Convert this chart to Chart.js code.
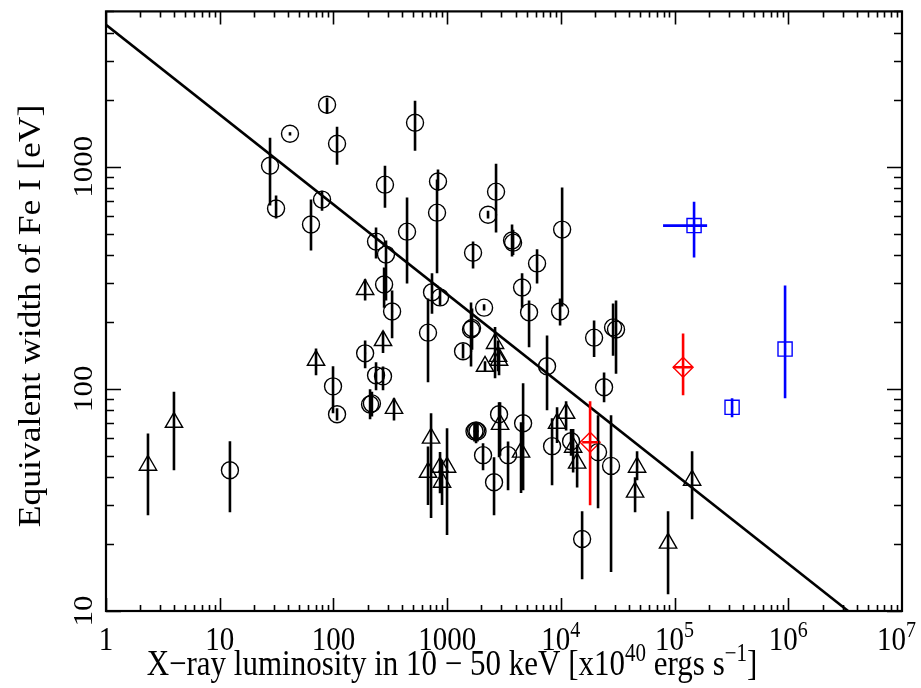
<!DOCTYPE html>
<html>
<head>
<meta charset="utf-8">
<script src="https://cdn.jsdelivr.net/npm/chart.js@4.4.0/dist/chart.umd.min.js"></script>
<style>
  html, body { margin: 0; padding: 0; background: #ffffff; }
  #grafico { display: block; }
</style>
</head>
<body>
<canvas id="grafico" width="921" height="688"></canvas>
<script>
// Fuentes Compton-thick / Seyfert: anchura equivalente de Fe I frente a luminosidad 10-50 keV

// circulos
const circX  = [27.7, 31.3, 41.5, 87.9, 107.6, 63.5, 79.4, 284, 522, 831, 815, 444, 237, 290, 279, 328, 736, 866, 679,
                2692, 2289, 3722, 3800, 1690, 10260, 6177, 4561, 5253, 9843, 19600, 28790, 30560, 23990, 7561, 2113,
                1380, 1622, 1656, 190, 237, 273, 99.2, 107.6, 210, 218, 12.3, 2861, 1740, 1796, 1850, 2069, 3433,
                2585, 4656, 8369, 21240, 27630, 15380, 12300];
const circY  = [1010, 648, 1406, 1900, 1268, 549, 711, 830, 1577, 857, 621, 510, 460, 402, 295, 223, 272, 258, 179,
                772, 608, 465, 455, 410, 521, 367, 286, 221, 223, 170, 189, 185, 101.6, 126.3, 232,
                147.6, 185, 188, 144.5, 115, 113.8, 102.6, 76.8, 85, 86, 43, 76.8, 64.4, 65, 64.4, 50.3, 50.3,
                38, 70, 55.2, 51.9, 45, 21.1, 58.1];
const circLo = [668, 584, 1380, 1730, 1021, 419, 634, 654, 1180, 780, 331, 298, 386, 250, 232, 169, 218, 237, 107,
                505, 584, 394, 400, 348, 235, 298, 232, 154, 193, 139, 141, 117, 87, 80, 225,
                137, 126, 150, 123.7, 98.5, 98.5, 77.6, 72.1, 72.9, 75, 27.8, 49.2, 58, 56.9, 58, 43, 35,
                27, 35, 36.8, 29, 15, 13.9, 50];
const circHi = [1349, 741, 1430, 2042, 1514, 711, 780, 1010, 1982, 970, 875, 726, 532, 465, 352, 277, 331, 286, 255,
                1030, 634, 549, 520, 460, 805, 425, 331, 250, 255, 203, 242, 250, 118.6, 174, 240,
                160, 245, 230, 165, 131.6, 126, 126.3, 81.7, 99.5, 97, 58.1, 87, 70, 70.7, 70, 56.9, 58,
                49.2, 106, 73.7, 76, 76, 28.1, 66];

// triangulos
const triX  = [2.34, 3.96, 190, 273, 70.3, 341, 2638, 2804, 2861, 2153, 2920, 4466, 9262, 11120, 12820, 13900,
               722, 679, 866, 902, 998, 46800, 44950, 142600, 87660];
const triY  = [45.3, 70.7, 280, 165, 134.4, 81.7, 160, 140, 134.4, 126.3, 69.2, 51.9, 70, 77.6, 54.6, 46.3,
               60, 42.1, 44.4, 38, 44.4, 44.4, 34.3, 38.8, 20.2];
const triLo = [27, 43, 250, 145, 115, 72.1, 111.5, 120, 115, 120, 50, 34, 57, 65, 42, 36,
               26.2, 30, 33.9, 30, 22, 38.8, 27.8, 25.9, 11.9];
const triHi = [63, 97, 311, 181, 152, 90.6, 190, 165, 150, 133, 87, 70.7, 82.6, 88, 66, 56,
               77.6, 55, 51.9, 48, 66.4, 52.4, 40, 52.4, 28.1];

// rombos rojos
const rojoX   = [118800, 18080];
const rojoY   = [125, 57.5];
const rojoLo  = [93.5, 29.9];
const rojoHi  = [177.5, 87.9];
const rojoXLo = [97000, 15400];
const rojoXHi = [142600, 21200];

// cuadrados azules
const azulX   = [148400, 937000, 320400];
const azulY   = [543, 151, 82.6];
const azulLo  = [390, 90.6, 74.5];
const azulHi  = [696, 292, 90.6];
const azulXLo = [79200, null, null];
const azulXHi = [193300, null, null];

// recta de ajuste
const ajusteX = [1, 3.36e6];
const ajusteY = [4350, 10];

// etiquetas de los ejes
const xTicks    = [1, 10, 100, 1000, 1e4, 1e5, 1e6, 1e7];
const xTickBase = ["1", "10", "100", "1000", "10", "10", "10", "10"];
const xTickExp  = ["", "", "", "", "4", "5", "6", "7"];
const yTicks    = [10, 100, 1000];
const yTickText = ["10", "100", "1000"];

const FUENTE = '"Liberation Serif", "Times New Roman", serif';
const ESTIRA = 1.15;

function puntos(xs, ys, lo, hi, xlo, xhi) {
    return xs.map((x, i) => ({
        x: x, y: ys[i], lo: lo[i], hi: hi[i],
        xlo: xlo ? xlo[i] : null, xhi: xhi ? xhi[i] : null
    }));
}

// ancho de un texto con superindices
function anchoSegmentos(ctx, segs, size) {
    let total = 0;
    segs.forEach(s => {
        ctx.font = (s.sup ? Math.round(size * 0.68) : size) + "px " + FUENTE;
        total += ctx.measureText(s.t).width;
    });
    return total;
}

// texto con superindices, empezando en el origen
function dibujaSegmentos(ctx, segs, size) {
    let cx = 0;
    ctx.textAlign = "left";
    ctx.textBaseline = "alphabetic";
    segs.forEach(s => {
        ctx.font = (s.sup ? Math.round(size * 0.68) : size) + "px " + FUENTE;
        ctx.fillText(s.t, cx, s.sup ? -size * 0.4 : 0);
        cx += ctx.measureText(s.t).width;
    });
}

// barras de error
const barrasError = {
    id: "barrasError",
    afterDatasetsDraw(chart) {
        const ctx = chart.ctx;
        const sx = chart.scales.x, sy = chart.scales.y;
        const x0 = sx.getPixelForValue(sx.min), x1 = sx.getPixelForValue(sx.max);
        const y0 = sy.getPixelForValue(sy.max), y1 = sy.getPixelForValue(sy.min);
        ctx.save();
        ctx.beginPath();
        ctx.rect(x0, y0, x1 - x0, y1 - y0);
        ctx.clip();
        chart.data.datasets.forEach(ds => {
            if (!ds.colorError) return;
            ctx.strokeStyle = ds.colorError;
            ctx.fillStyle = ds.colorError;
            ctx.lineWidth = 2.6;
            ds.data.forEach(p => {
                const px = sx.getPixelForValue(p.x);
                const py = sy.getPixelForValue(p.y);
                ctx.beginPath();
                ctx.moveTo(px, sy.getPixelForValue(p.lo));
                ctx.lineTo(px, sy.getPixelForValue(p.hi));
                if (p.xlo) {
                    ctx.moveTo(sx.getPixelForValue(p.xlo), py);
                    ctx.lineTo(sx.getPixelForValue(p.xhi), py);
                }
                ctx.stroke();
                ctx.fillRect(px - 1, py - 1, 2, 2);
            });
        });
        ctx.restore();
    }
};

// marco, marcas hacia dentro y textos
const ejes = {
    id: "ejes",
    afterDraw(chart) {
        const ctx = chart.ctx;
        const sx = chart.scales.x, sy = chart.scales.y;
        const izq = sx.getPixelForValue(sx.min), der = sx.getPixelForValue(sx.max);
        const arr = sy.getPixelForValue(sy.max), aba = sy.getPixelForValue(sy.min);
        ctx.save();
        ctx.strokeStyle = "#000";
        ctx.fillStyle = "#000";

        ctx.lineWidth = 1.6;
        ctx.beginPath();
        for (let d = 0; d < 7; d++) {
            for (let m = 1; m <= 9; m++) {
                const v = m * Math.pow(10, d);
                const px = Math.round(sx.getPixelForValue(v)) + 0.5;
                const len = m === 1 ? 13 : 6;
                ctx.moveTo(px, aba); ctx.lineTo(px, aba - len);
                ctx.moveTo(px, arr); ctx.lineTo(px, arr + len);
            }
        }
        for (let d = 1; d < 4; d++) {
            for (let m = 1; m <= 9; m++) {
                const v = m * Math.pow(10, d);
                if (v > sy.max) break;
                const py = Math.round(sy.getPixelForValue(v)) + 0.5;
                const len = m === 1 ? 15 : 8;
                ctx.moveTo(izq, py); ctx.lineTo(izq + len, py);
                ctx.moveTo(der, py); ctx.lineTo(der - len, py);
            }
        }
        ctx.stroke();

        ctx.lineWidth = 2.2;
        ctx.strokeRect(izq, arr, der - izq, aba - arr);

        // etiquetas del eje x
        xTicks.forEach((v, i) => {
            const segs = [{ t: xTickBase[i] }];
            if (xTickExp[i]) segs.push({ t: xTickExp[i], sup: true });
            const w = anchoSegmentos(ctx, segs, 29);
            let inicio = sx.getPixelForValue(v) - w / 2;
            if (inicio + w > 916) inicio = 916 - w;
            ctx.save();
            ctx.translate(inicio, 650);
            ctx.scale(1, ESTIRA);
            dibujaSegmentos(ctx, segs, 29);
            ctx.restore();
        });

        // etiquetas del eje y (giradas)
        yTicks.forEach((v, i) => {
            const segs = [{ t: yTickText[i] }];
            const w = anchoSegmentos(ctx, segs, 27);
            ctx.save();
            ctx.translate(92, sy.getPixelForValue(v));
            ctx.rotate(-Math.PI / 2);
            ctx.scale(ESTIRA, 1);
            ctx.translate(-w / 2, 0);
            dibujaSegmentos(ctx, segs, 27);
            ctx.restore();
        });

        // titulos
        const tituloX = [
            { t: "X\u2212ray luminosity in 10 \u2212 50 keV [x10" },
            { t: "40", sup: true },
            { t: " ergs s" },
            { t: "\u22121", sup: true },
            { t: "]" }
        ];
        const wx = anchoSegmentos(ctx, tituloX, 31);
        ctx.save();
        ctx.translate(452 - wx / 2, 675);
        ctx.scale(1, ESTIRA);
        dibujaSegmentos(ctx, tituloX, 31);
        ctx.restore();

        const tituloY = [{ t: "Equivalent width of Fe I [eV]" }];
        const wy = anchoSegmentos(ctx, tituloY, 31);
        ctx.save();
        ctx.translate(40, 316);
        ctx.rotate(-Math.PI / 2);
        ctx.scale(ESTIRA, 1);
        ctx.translate(-wy / 2, 0);
        dibujaSegmentos(ctx, tituloY, 31);
        ctx.restore();

        ctx.restore();
    }
};

const datos = {
    datasets: [
        {
            label: "ajuste",
            data: ajusteX.map((x, i) => ({ x: x, y: ajusteY[i] })),
            showLine: true,
            borderColor: "#000",
            borderWidth: 2.6,
            pointRadius: 0
        },
        {
            label: "circulos",
            data: puntos(circX, circY, circLo, circHi),
            colorError: "#000",
            pointStyle: "circle",
            pointRadius: 8.5,
            pointBorderWidth: 1.4,
            pointBorderColor: "#000",
            pointBackgroundColor: "rgba(0,0,0,0)"
        },
        {
            label: "triangulos",
            data: puntos(triX, triY, triLo, triHi),
            colorError: "#000",
            pointStyle: "triangle",
            pointRadius: 10,
            pointBorderWidth: 1.4,
            pointBorderColor: "#000",
            pointBackgroundColor: "rgba(0,0,0,0)"
        },
        {
            label: "rojos",
            data: puntos(rojoX, rojoY, rojoLo, rojoHi, rojoXLo, rojoXHi),
            colorError: "#ff0000",
            pointStyle: "rectRot",
            pointRadius: 10,
            pointBorderWidth: 1.4,
            pointBorderColor: "#ff0000",
            pointBackgroundColor: "rgba(0,0,0,0)"
        },
        {
            label: "azules",
            data: puntos(azulX, azulY, azulLo, azulHi, azulXLo, azulXHi),
            colorError: "#0000ff",
            pointStyle: "rect",
            pointRadius: 10,
            pointBorderWidth: 1.4,
            pointBorderColor: "#0000ff",
            pointBackgroundColor: "rgba(0,0,0,0)"
        }
    ]
};

const config = {
    type: "scatter",
    data: datos,
    options: {
        responsive: false,
        animation: false,
        layout: { padding: { left: 106, right: 19, top: 10, bottom: 77 } },
        scales: {
            x: { type: "logarithmic", min: 1, max: 1e7, display: false },
            y: { type: "logarithmic", min: 10, max: 5000, display: false }
        },
        plugins: {
            legend: { display: false },
            tooltip: { enabled: false }
        }
    },
    plugins: [barrasError, ejes]
};

const ctx = document.getElementById("grafico").getContext("2d");
new Chart(ctx, config);
</script>
</body>
</html>
